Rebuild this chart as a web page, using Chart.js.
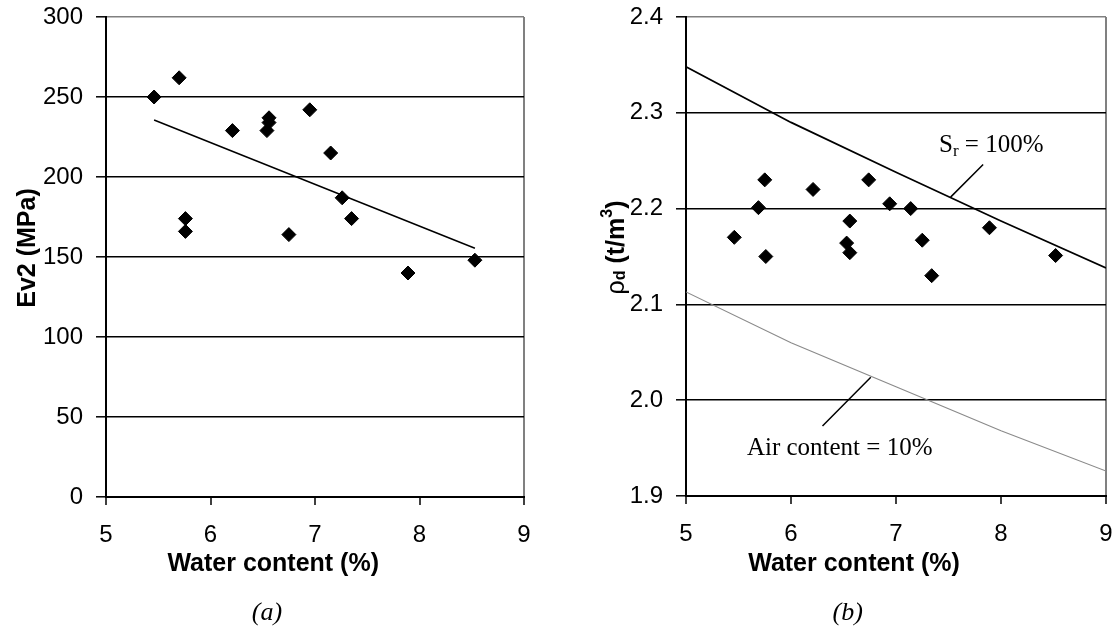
<!DOCTYPE html>
<html>
<head>
<meta charset="utf-8">
<script src="https://cdn.jsdelivr.net/npm/chart.js@4"></script>
<style>
html, body { margin: 0; background: #fff; overflow: hidden; }
#wrap { position: relative; width: 1115px; height: 629px; overflow: hidden; }
canvas { position: absolute; top: 0; }
#chartA { left: 0; }
#chartB { left: 557px; }
</style>
</head>
<body>
<div id="wrap">
    <canvas id="chartA" width="557" height="629"></canvas>
    <canvas id="chartB" width="558" height="629"></canvas>
</div>
<script>
// (a) Ev2 x teor de água
var waterA = [5.46, 5.70, 5.76, 5.76, 6.21, 6.54, 6.56, 6.56, 6.75, 6.95, 7.15, 7.26, 7.35, 7.89, 8.53];
var ev2 = [250, 262, 174, 166, 229, 229, 234, 237, 164, 242, 215, 187, 174, 140, 148];
var trendX = [5.46, 8.53];
var trendY = [235.6, 155.5];

// (b) densidade seca x teor de água
var waterB = [5.46, 5.69, 5.75, 5.76, 6.21, 6.53, 6.56, 6.56, 6.74, 6.94, 7.14, 7.25, 7.34, 7.89, 8.52];
var rhoD = [2.170, 2.201, 2.230, 2.150, 2.220, 2.164, 2.154, 2.187, 2.230, 2.205, 2.200, 2.167, 2.130, 2.180, 2.151];
var curveW = [5, 6, 7, 8, 9];
var sat100 = [2.348, 2.290, 2.238, 2.187, 2.138];
var air10 = [2.113, 2.060, 2.014, 1.968, 1.926];

var SANS = "'Liberation Sans', Arial, sans-serif";
var SERIF = "'Liberation Serif', 'Times New Roman', serif";

function toXY(xs, ys) {
    return xs.map(function (x, i) { return { x: x, y: ys[i] }; });
}

// Função para montar as escalas dos dois gráficos
function makeScales(yMin, yMax, yStep, decimals, yWidth, xHeight) {
    return {
        x: {
            type: "linear", min: 5, max: 9,
            ticks: { stepSize: 1, color: "#000", padding: 16, font: { family: SANS, size: 24 } },
            grid: {
                drawOnChartArea: true,
                color: function (c) { return c.tick && c.tick.value === 9 ? "#808080" : "rgba(0,0,0,0)"; },
                lineWidth: 2, tickColor: "#000", tickLength: 8, tickWidth: 1.5
            },
            border: { color: "#000", width: 2 },
            afterFit: function (s) {
                s.height = xHeight;
                s.paddingLeft = 0;
                s.paddingRight = 0;
            }
        },
        y: {
            type: "linear", min: yMin, max: yMax,
            ticks: {
                stepSize: yStep, color: "#000", padding: 13, font: { family: SANS, size: 24 },
                callback: function (v) { return v.toFixed(decimals); }
            },
            grid: {
                color: function (c) { return c.tick && Math.abs(c.tick.value - yMax) < 1e-9 ? "#808080" : "#000"; },
                lineWidth: 1.6, tickColor: "#000", tickLength: 10, tickWidth: 1.5
            },
            border: { color: "#000", width: 2 },
            afterFit: function (s) {
                s.width = yWidth;
                s.paddingTop = 0;
                s.paddingBottom = 0;
            }
        }
    };
}

// Plugin para textos (títulos, rótulos e anotações)
function textPlugin(drawFn) {
    return {
        id: "textos",
        afterDraw: function (chart) {
            var ctx = chart.ctx;
            ctx.save();
            ctx.fillStyle = "#000";
            ctx.strokeStyle = "#000";
            drawFn(chart, ctx);
            ctx.restore();
        }
    };
}

function drawRich(ctx, parts, x, y, align) {
    var total = 0;
    ctx.textAlign = "left";
    parts.forEach(function (p) { ctx.font = p.font; total += ctx.measureText(p.t).width; });
    var cx = align === "center" ? x - total / 2 : x;
    parts.forEach(function (p) {
        ctx.font = p.font;
        ctx.fillText(p.t, cx, y + (p.dy || 0));
        cx += ctx.measureText(p.t).width;
    });
}

function commonText(chart, ctx, panel) {
    var xs = chart.scales.x;
    ctx.textAlign = "center";
    ctx.textBaseline = "alphabetic";
    ctx.font = "bold 25px " + SANS;
    ctx.fillText("Water content (%)", xs.getPixelForValue(6.6), 571);
    ctx.font = "italic 26px " + SERIF;
    ctx.fillText(panel, xs.getPixelForValue(6.54), 620);
}

function baseOptions(scales, padRight) {
    return {
        responsive: false,
        animation: false,
        devicePixelRatio: 1,
        layout: { padding: { top: 17, right: padRight, left: 0, bottom: 0 } },
        plugins: { legend: { display: false }, tooltip: { enabled: false } },
        scales: scales
    };
}

function setupChartA() {
    new Chart(document.getElementById("chartA"), {
        type: "scatter",
        data: {
            datasets: [{
                data: toXY(waterA, ev2),
                pointStyle: "rectRot", pointRadius: 7,
                backgroundColor: "#000", borderColor: "#000", borderWidth: 1
            }, {
                data: toXY(trendX, trendY),
                showLine: true, pointRadius: 0,
                borderColor: "#000", borderWidth: 1.5
            }]
        },
        options: baseOptions(makeScales(0, 300, 50, 0, 106, 132), 33),
        plugins: [textPlugin(function (chart, ctx) {
            commonText(chart, ctx, "(a)");
            var a = chart.chartArea;
            ctx.save();
            ctx.translate(a.left - 78, (a.top + a.bottom) / 2 - 9);
            ctx.rotate(-Math.PI / 2);
            ctx.textAlign = "center";
            ctx.textBaseline = "middle";
            ctx.font = "bold 25px " + SANS;
            ctx.fillText("Ev2 (MPa)", 0, 0);
            ctx.restore();
        })]
    });
}

function setupChartB() {
    new Chart(document.getElementById("chartB"), {
        type: "scatter",
        data: {
            datasets: [{
                data: toXY(waterB, rhoD),
                pointStyle: "rectRot", pointRadius: 7,
                backgroundColor: "#000", borderColor: "#000", borderWidth: 1
            }, {
                data: toXY(curveW, sat100),
                showLine: true, pointRadius: 0,
                borderColor: "#000", borderWidth: 1.7
            }, {
                data: toXY(curveW, air10),
                showLine: true, pointRadius: 0,
                borderColor: "#8a8a8a", borderWidth: 1.1
            }]
        },
        options: baseOptions(makeScales(1.9, 2.4, 0.1, 1, 129, 133), 9),
        plugins: [textPlugin(function (chart, ctx) {
            commonText(chart, ctx, "(b)");
            var a = chart.chartArea;
            var xs = chart.scales.x, ys = chart.scales.y;

            // título do eixo y com índices
            var b = "bold 25px " + SANS, small = "bold 16px " + SANS;
            ctx.save();
            ctx.translate(a.left - 69, (a.top + a.bottom) / 2 - 9);
            ctx.rotate(-Math.PI / 2);
            ctx.textBaseline = "middle";
            drawRich(ctx, [
                { t: "\u03c1", font: "25px " + SANS },
                { t: "d", font: small, dy: 4 },
                { t: " (t/m", font: b },
                { t: "3", font: small, dy: -9 },
                { t: ")", font: b }
            ], 0, 0, "center");
            ctx.restore();

            // anotações
            ctx.textBaseline = "alphabetic";
            drawRich(ctx, [
                { t: "S", font: "25px " + SERIF },
                { t: "r", font: "17px " + SERIF, dy: 4 },
                { t: " = 100%", font: "25px " + SERIF }
            ], xs.getPixelForValue(7.41), ys.getPixelForValue(2.259), "left");
            ctx.font = "25px " + SERIF;
            ctx.fillText("Air content = 10%", xs.getPixelForValue(5.58), ys.getPixelForValue(1.9425));

            ctx.lineWidth = 1.5;
            ctx.beginPath();
            ctx.moveTo(xs.getPixelForValue(7.83), ys.getPixelForValue(2.246));
            ctx.lineTo(xs.getPixelForValue(7.52), ys.getPixelForValue(2.212));
            ctx.moveTo(xs.getPixelForValue(6.76), ys.getPixelForValue(2.024));
            ctx.lineTo(xs.getPixelForValue(6.30), ys.getPixelForValue(1.973));
            ctx.stroke();
        })]
    });
}

window.addEventListener("load", function () {
    setupChartA();
    setupChartB();
});
</script>
</body>
</html>
